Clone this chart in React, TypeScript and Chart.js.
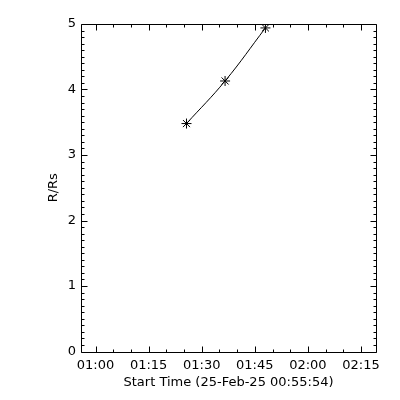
import React, { useEffect, useRef } from "react";
import { Chart, registerables } from "chart.js";

Chart.register(...registerables);

// Data (time of day, HH:MM:SS) and height in solar radii
const startLabel = "25-Feb-25 00:55:54";
const startTime = "00:55:54";
const endTime = "02:19:14";
const pointTimes = ["01:25:42", "01:36:36", "01:48:00"];
const heights = [3.48, 4.13, 4.94];
const xMajorTicks = ["01:00", "01:15", "01:30", "01:45", "02:00", "02:15"];
const yTicks = [0, 1, 2, 3, 4, 5];

const toMin = (s: string) => {
  const p = s.split(":").map(Number);
  return p[0] * 60 + p[1] + (p[2] || 0) / 60;
};
const fmt = (m: number) => {
  const h = Math.floor(m / 60);
  const mm = Math.round(m - h * 60);
  return String(h).padStart(2, "0") + ":" + String(mm).padStart(2, "0");
};

const FONT = "'DejaVu Sans', sans-serif";
const FS = 13;

const idlTicks = {
  id: "idlTicks",
  afterDraw(chart: any) {
    const { ctx, chartArea: a, scales } = chart;
    const x = scales.x;
    const y = scales.y;
    ctx.save();
    ctx.strokeStyle = "#000";
    ctx.lineWidth = 1;
    ctx.beginPath();
    ctx.rect(Math.round(a.left) + 0.5, Math.round(a.top) + 0.5, Math.round(a.right - a.left), Math.round(a.bottom - a.top));
    ctx.stroke();
    const L = Math.round(a.left) + 0.5;
    const R = Math.round(a.right) + 0.5;
    const T = Math.round(a.top) + 0.5;
    const B = Math.round(a.bottom) + 0.5;
    ctx.beginPath();
    const majorX = xMajorTicks.map(toMin);
    for (let m = Math.ceil(x.min / 5) * 5; m <= x.max; m += 5) {
      const isMajor = majorX.some((v) => Math.abs(v - m) < 1e-6);
      const len = isMajor ? 6 : 3;
      const px = Math.round(x.getPixelForValue(m)) + 0.5;
      ctx.moveTo(px, B);
      ctx.lineTo(px, B - len);
      ctx.moveTo(px, T);
      ctx.lineTo(px, T + len);
    }
    for (let i = 0; i <= 50; i++) {
      const v = i / 10;
      const isMajor = i % 10 === 0;
      const len = isMajor ? 6 : 3;
      const py = Math.round(y.getPixelForValue(v)) + 0.5;
      ctx.moveTo(L, py);
      ctx.lineTo(L + len, py);
      ctx.moveTo(R, py);
      ctx.lineTo(R - len, py);
    }
    ctx.stroke();
    ctx.restore();
  },
};

export default function App() {
  const ref = useRef<HTMLCanvasElement>(null);
  useEffect(() => {
    document.body.style.margin = "0";
    const chart = new Chart(ref.current!, {
      type: "line",
      data: {
        datasets: [
          {
            data: pointTimes.map((t, i) => ({ x: toMin(t), y: heights[i] })),
            borderColor: "#000",
            borderWidth: 1,
            tension: 0.4,
            pointStyle: "star",
            pointRadius: 5,
            pointBorderColor: "#000",
            pointBorderWidth: 1,
            pointBackgroundColor: "#000",
            fill: false,
          },
        ],
      },
      options: {
        animation: false,
        responsive: false,
        events: [],
        layout: { padding: { top: 24, right: 24, left: 0, bottom: 0 } },
        plugins: { legend: { display: false }, tooltip: { enabled: false } },
        scales: {
          x: {
            type: "linear",
            min: toMin(startTime),
            max: toMin(endTime),
            afterBuildTicks: (s: any) => {
              s.ticks = xMajorTicks.map((t) => ({ value: toMin(t) }));
            },
            afterFit: (s: any) => {
              s.height = 48.5;
            },
            grid: { display: false, drawTicks: false },
            border: { display: false },
            ticks: {
              color: "#000",
              font: { family: FONT, size: FS },
              padding: 6,
              maxRotation: 0,
              autoSkip: false,
              callback: (v: any) => fmt(Number(v)),
            },
            title: {
              display: true,
              text: "Start Time (" + startLabel + ")",
              color: "#000",
              font: { family: FONT, size: FS },
              padding: { top: 0, bottom: 10 },
            },
          },
          y: {
            type: "linear",
            min: 0,
            max: 5,
            afterBuildTicks: (s: any) => {
              s.ticks = yTicks.map((v) => ({ value: v }));
            },
            afterFit: (s: any) => {
              s.width = 81;
            },
            grid: { display: false, drawTicks: false },
            border: { display: false },
            ticks: {
              color: "#000",
              font: { family: FONT, size: FS },
              padding: 5,
            },
            title: {
              display: true,
              text: "R/Rs",
              color: "#000",
              font: { family: FONT, size: FS },
              padding: { top: 46, bottom: 0 },
            },
          },
        },
      },
      plugins: [idlTicks],
    } as any);
    return () => chart.destroy();
  }, []);
  return (
    <div style={{ position: "absolute", left: 0, top: 0, width: 400, height: 400, background: "#fff" }}>
      <canvas ref={ref} width={400} height={400} />
    </div>
  );
}
